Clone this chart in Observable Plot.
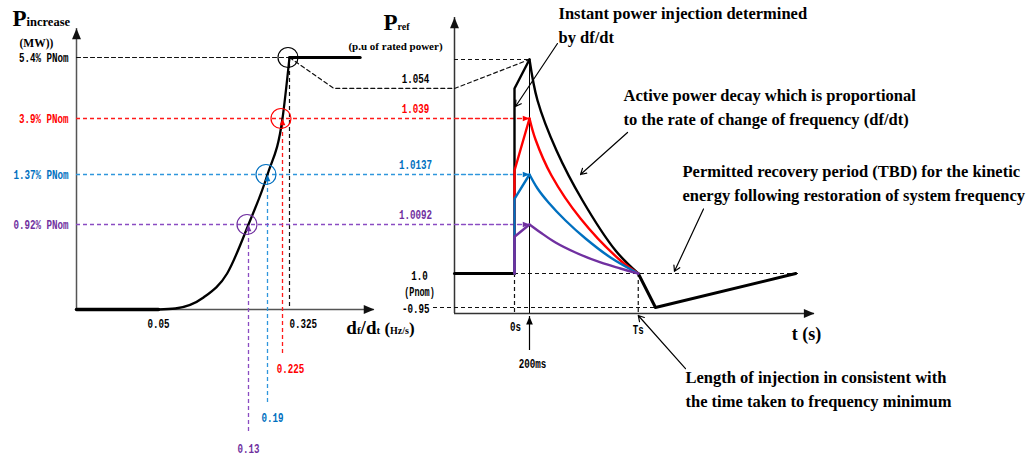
<!DOCTYPE html>
<html>
<head>
<meta charset="utf-8">
<script src="https://cdn.jsdelivr.net/npm/d3@7"></script>
<script src="https://cdn.jsdelivr.net/npm/@observablehq/plot@0.6"></script>
<style>
  html, body { margin: 0; padding: 0; background: #fff; }
  #chart { position: relative; width: 1031px; height: 461px; overflow: hidden; }
  #chart svg { position: absolute; left: 0; top: 0; }
</style>
</head>
<body>
<div id="chart"></div>
<script>
// ---------- values ----------
// Series order: maximum response, then three example df/dt events
const dfdtRate      = [0.325, 0.225, 0.19, 0.13];      // df/dt (Hz/s)
const pIncreasePct  = [5.4, 3.9, 1.37, 0.92];           // power increase (% PNom)
const pRefPeak      = [1.054, 1.039, 1.0137, 1.0092];   // Pref at 200 ms (p.u.)
const pRefStep      = [1.047, 1.0155, 1.0115, 1.0069];  // Pref right after the instant step (p.u.)

const dfdtDeadband = 0.05;   // response starts above this df/dt
const plateauEnd   = 0.4;    // df/dt where the saturated line ends

// onset curve of the power increase versus df/dt
const onsetRate = [0.05, 0.065, 0.09, 0.111, 0.13, 0.19, 0.225, 0.325];
const onsetPct  = [0, 0.011, 0.13, 0.39, 0.92, 1.37, 3.9, 5.4];

// time markers (s) and power levels (p.u.)
const tStep = 0, tPeak = 0.2, Ts = 1.65, tMin = 1.88, tRecovered = 3.75;
const pNom = 1.0, pMin = 0.95;

// decay of Pref from the peak back to 1.0 at Ts
const decayT = [
  [0.2, 0.307, 0.56, 0.907, 1.347, 1.65],
  [0.2, 0.28, 0.493, 0.88, 1.413, 1.65],
  [0.2, 0.307, 0.453, 0.68, 0.947, 1.28, 1.65],
  [0.2, 0.347, 0.547, 0.813, 1.147, 1.413, 1.65]
];
const decayP = [
  [1.054, 1.0438, 1.02454, 1.01136, 1.00432, 1.0],
  [1.039, 1.02951, 1.01361, 1.00974, 1.00244, 1.0],
  [1.0137, 1.01244, 1.01118, 1.00956, 1.00657, 1.0030, 1.0],
  [1.0092, 1.0077, 1.00582, 1.00394, 1.00207, 1.00094, 1.0]
];

// ---------- styles ----------
const lineColor = ["#000000", "#ff0000", "#0070c0", "#7030a0"];
const dashColor = ["#111111", "#ff1a1a", "#2f96dc", "#8a4cc2"];
const leaderDrop = [0, 45, 94, 125];           // px below the df/dt axis
const leaderLabelShift = [0, 8, 5, 0];         // px
const DASH = "4,3";
const SERIF = "Liberation Serif, Times New Roman, serif";
const MONO = "Liberation Mono, Courier New, monospace";
const monoText = {fontFamily: MONO, fontWeight: "bold", fontSize: 13.5, className: "mono"};

// narrow arrowhead whose tip sits at the anchor point
const arrowHead = {
  draw(context, size) {
    const h = Math.sqrt(size), w = h * 0.42;
    context.moveTo(0, 0);
    context.lineTo(w, h);
    context.lineTo(-w, h);
    context.closePath();
  }
};

const notes = [
  {text: "Instant power injection determined\nby df/dt", x: 0.587, y: 1.094, ax1: 0.573, ay1: 1.0715, ax2: 0.013, ay2: 1.0422},
  {text: "Active power decay which is proportional\nto the rate of change of frequency (df/dt)", x: 1.453, y: 1.0425, ax1: 1.507, ay1: 1.0327, ax2: 0.88, ay2: 1.0137},
  {text: "Permitted recovery period (TBD) for the kinetic\nenergy following restoration of system frequency", x: 2.24, y: 1.0131, ax1: 2.52, ay1: 1.0106, ax2: 2.133, ay2: 1.0004},
  {text: "Length of injection in consistent with\nthe time taken to frequency minimum", x: 2.28, y: 0.8175, ax1: 2.28, ay1: 0.848, ax2: Ts, ay2: 0.9367}
];

const richText = {
  "Pincrease": [["P", 23], ["increase", 12.5]],
  "Pref": [["P", 23], ["ref", 10]],
  "df/dt (Hz/s)": [["d", 19], ["f", 11], ["/", 19], ["d", 19], ["t", 11], [" (", 17], ["Hz/s", 10], [")", 17]]
};

const W = 1031, H = 461;
const asc = (a) => [...a].sort(d3.ascending);

// ---------- left panel: P increase vs df/dt ----------
const leftMarks = [
  // axes with arrowheads
  Plot.ruleX([0], {y1: 6, y2: 0, stroke: "#555", strokeWidth: 1.5}),
  Plot.ruleY([0], {x1: 0, x2: 0.415, stroke: "#555", strokeWidth: 1.5}),
  Plot.dot([0], {x: 0, y: 6, symbol: arrowHead, r: 6, fill: "#111", stroke: "none"}),
  Plot.dot([0], {x: 0.415, y: 0, symbol: arrowHead, r: 6, rotate: 90, fill: "#111", stroke: "none"}),
  // guide for the saturated response, routed on to the Pref peak
  Plot.line([[0, pIncreasePct[0]], [dfdtRate[0], pIncreasePct[0]]], {stroke: dashColor[0], strokeWidth: 1.2, strokeDasharray: DASH}),
  Plot.ruleX([dfdtRate[0]], {y1: pIncreasePct[0], y2: 0, stroke: dashColor[0], strokeWidth: 1.2, strokeDasharray: DASH}),
  Plot.line([[dfdtRate[0], pIncreasePct[0]], [0.372, 4.64], [0.5, 4.64]], {stroke: dashColor[0], strokeWidth: 1.2, strokeDasharray: DASH})
];
for (let i = 1; i < 4; i++) {
  leftMarks.push(
    Plot.ruleY([pIncreasePct[i]], {stroke: dashColor[i], strokeWidth: 1.3, strokeDasharray: DASH}),
    Plot.ruleX([dfdtRate[i]], {y1: pIncreasePct[i], y2: 0, insetBottom: -leaderDrop[i], stroke: dashColor[i], strokeWidth: 1.3, strokeDasharray: DASH})
  );
}
leftMarks.push(
  Plot.line([[0, 0], [dfdtDeadband, 0]], {stroke: "#000", strokeWidth: 3.5}),
  Plot.line(d3.zip(onsetRate, onsetPct), {curve: "monotone-x", stroke: "#000", strokeWidth: 2.3}),
  Plot.line([[dfdtRate[0], pIncreasePct[0]], [plateauEnd, pIncreasePct[0]]], {stroke: "#000", strokeWidth: 3})
);
for (let i = 0; i < 4; i++) {
  leftMarks.push(
    Plot.dot([0], {x: dfdtRate[i], y: pIncreasePct[i], r: 10, dx: -1.5, fill: "none", stroke: lineColor[i], strokeWidth: 1.2}),
    Plot.text([`${pIncreasePct[i]}% PNom`], {x: 0, y: pIncreasePct[i], textAnchor: "end", dx: -8, fill: lineColor[i], ...monoText})
  );
  if (i > 0) {
    leftMarks.push(
      Plot.dot([0], {x: dfdtRate[i], y: pIncreasePct[i], symbol: arrowHead, r: 3.8, fill: lineColor[i], stroke: "none"}),
      Plot.text([`${dfdtRate[i]}`], {x: dfdtRate[i], y: 0, dx: leaderLabelShift[i], dy: leaderDrop[i] + 14, fill: lineColor[i], ...monoText})
    );
  }
}
leftMarks.push(
  Plot.text([`${dfdtDeadband}`], {x: dfdtDeadband, y: 0, dy: 14, ...monoText}),
  Plot.text([`${dfdtRate[0]}`], {x: dfdtRate[0], y: 0, dy: 14, textAnchor: "start", ...monoText}),
  Plot.text(["Pincrease"], {frameAnchor: "top-left", textAnchor: "start", dx: -64, dy: -10, fontFamily: SERIF, fontWeight: "bold", className: "rich"}),
  Plot.text(["(MW))"], {frameAnchor: "top-left", textAnchor: "start", dx: -57, dy: 10, fontFamily: SERIF, fontWeight: "bold", fontSize: 11.5}),
  Plot.text(["df/dt (Hz/s)"], {x: 0.415, y: 0, textAnchor: "start", dx: -28, dy: 21, fontFamily: SERIF, fontWeight: "bold", className: "rich"})
);

const left = Plot.plot({
  width: W, height: H,
  marginLeft: 76, marginRight: W - 454, marginTop: 28, marginBottom: H - 309,
  x: {type: "linear", domain: [0, dfdtDeadband, ...asc(dfdtRate), 0.5], range: [76, 158, 248, 267, 282, 289, 454], axis: null},
  y: {type: "linear", domain: [0, ...asc(pIncreasePct), 6], range: [309, 224, 174, 118, 57, 28], axis: null},
  style: {background: "white", overflow: "visible"},
  marks: leftMarks
});

// ---------- right panel: Pref vs time ----------
const rightMarks = [
  Plot.ruleX([-0.8], {y1: 1.1, y2: 0.94, stroke: "#333", strokeWidth: 1.5}),
  Plot.ruleY([0.94], {x1: -0.8, x2: 4.0, stroke: "#333", strokeWidth: 1.5}),
  Plot.dot([0], {x: -0.8, y: 1.1, symbol: arrowHead, r: 6, fill: "#111", stroke: "none"}),
  Plot.dot([0], {x: 4.0, y: 0.94, symbol: arrowHead, r: 6, rotate: 90, fill: "#111", stroke: "none"}),
  // dashed guides
  Plot.ruleY([pRefPeak[0]], {x1: -0.8, x2: tPeak, stroke: dashColor[0], strokeWidth: 1.2, strokeDasharray: DASH}),
  Plot.line([[-0.8, pRefStep[0]], [tPeak, pRefPeak[0]]], {stroke: dashColor[0], strokeWidth: 1.2, strokeDasharray: DASH}),
  Plot.ruleY([pNom], {x1: tStep, x2: 3.8, stroke: "#111", strokeWidth: 1.2, strokeDasharray: DASH}),
  Plot.ruleY([pMin], {x1: -0.8, x2: tMin, insetLeft: -21, stroke: "#111", strokeWidth: 1.2, strokeDasharray: DASH}),
  Plot.ruleX([tStep, Ts], {y1: pNom, y2: 0.94, stroke: "#111", strokeWidth: 1.2, strokeDasharray: DASH}),
  // 200 ms marker
  Plot.ruleX([tPeak], {y1: pRefPeak[0], y2: 0.94, stroke: "#000", strokeWidth: 1}),
  Plot.ruleX([tPeak], {y1: 0.94, y2: 0.94, insetTop: 3, insetBottom: -37, stroke: "#000", strokeWidth: 1.2}),
  Plot.dot([0], {x: tPeak, y: 0.94, dy: 3, symbol: arrowHead, r: 4.5, fill: "#000", stroke: "none"})
];
for (let i = 1; i < 4; i++) {
  rightMarks.push(
    Plot.line([[-0.8, pRefPeak[i]], [tPeak, pRefPeak[i]]], {stroke: dashColor[i], strokeWidth: 1.3, strokeDasharray: DASH})
  );
}
rightMarks.push(
  Plot.line([[-0.8, pNom], [tStep, pNom]], {stroke: "#000", strokeWidth: 3}),
  Plot.line([[Ts, pNom], [tMin, pMin], [tRecovered, pNom]], {stroke: "#000", strokeWidth: 3})
);
for (let i = 0; i < 4; i++) {
  rightMarks.push(
    Plot.line([[tStep, pNom], [tStep, pRefStep[i]], [tPeak, pRefPeak[i]]], {stroke: lineColor[i], strokeWidth: 2.4, strokeLinejoin: "miter"}),
    Plot.line(d3.zip(decayT[i], decayP[i]), {curve: "catmull-rom", stroke: lineColor[i], strokeWidth: 2.4}),
    Plot.text([`${pRefPeak[i]}`], {x: -0.8, y: pRefPeak[i], dx: -39, dy: i === 0 ? 19 : -10, fill: lineColor[i], ...monoText})
  );
}
for (let i = 1; i < 4; i++) {
  rightMarks.push(Plot.dot([0], {x: tPeak, y: pRefPeak[i], symbol: arrowHead, r: 3.8, rotate: 90, fill: lineColor[i], stroke: "none"}));
}
rightMarks.push(
  Plot.text([`${pNom.toFixed(1)}`], {x: -0.8, y: pNom, dx: -35, dy: 2, ...monoText}),
  Plot.text(["(Pnom)"], {x: -0.8, y: pNom, dx: -35, dy: 18, ...monoText, fontSize: 12.5}),
  Plot.text([`-${pMin}`], {x: -0.8, y: pMin, dx: -25, dy: 1, textAnchor: "end", ...monoText}),
  Plot.text(["0s"], {x: tStep, y: 0.94, dx: 1, dy: 13, ...monoText}),
  Plot.text(["Ts"], {x: Ts, y: 0.94, dy: 16, ...monoText}),
  Plot.text(["200ms"], {x: tPeak, y: 0.94, dx: 3, dy: 50, ...monoText}),
  Plot.text(["Pref"], {frameAnchor: "top-left", textAnchor: "start", dx: -71, dy: 5, fontFamily: SERIF, fontWeight: "bold", className: "rich"}),
  Plot.text(["(p.u of rated power)"], {frameAnchor: "top-left", textAnchor: "middle", dx: -59, dy: 25, fontFamily: SERIF, fontWeight: "bold", fontSize: 11}),
  Plot.text(["t (s)"], {x: 4.0, y: 0.94, dx: -8, dy: 21, fontFamily: SERIF, fontWeight: "bold", fontSize: 18}),
  Plot.arrow(notes, {x1: "ax1", y1: "ay1", x2: "ax2", y2: "ay2", stroke: "#000", strokeWidth: 1.2, headLength: 8}),
  Plot.text(notes, {x: "x", y: "y", text: "text", textAnchor: "start", lineAnchor: "middle", lineHeight: 1.45,
    fontFamily: SERIF, fontWeight: "bold", fontSize: 16.5})
);

const right = Plot.plot({
  width: W, height: H,
  marginLeft: 454, marginRight: W - 814, marginTop: 17, marginBottom: H - 313,
  x: {type: "linear", domain: [-0.8, 4.0], range: [454, 814], axis: null},
  y: {type: "linear", domain: [0.94, pMin, pNom, ...asc(pRefPeak.slice(1)), pRefStep[0], pRefPeak[0], 1.1],
      range: [313, 307, 273, 224, 174, 118, 88, 59, 17], axis: null},
  style: {background: "transparent", overflow: "visible"},
  marks: rightMarks
});

const chart = document.getElementById("chart");
chart.append(left, right);

// mixed-size labels (subscript-like parts)
for (const el of chart.querySelectorAll("g.rich text")) {
  const segs = richText[el.textContent];
  if (!segs) continue;
  el.textContent = "";
  for (const [s, size] of segs) {
    const t = document.createElementNS("http://www.w3.org/2000/svg", "tspan");
    t.setAttribute("font-size", size);
    t.textContent = s;
    el.appendChild(t);
  }
}
// narrow monospaced numerals
for (const el of chart.querySelectorAll("g.mono text")) {
  const w = el.getComputedTextLength();
  el.setAttribute("textLength", (w * 0.68).toFixed(1));
  el.setAttribute("lengthAdjust", "spacingAndGlyphs");
}
</script>
</body>
</html>
